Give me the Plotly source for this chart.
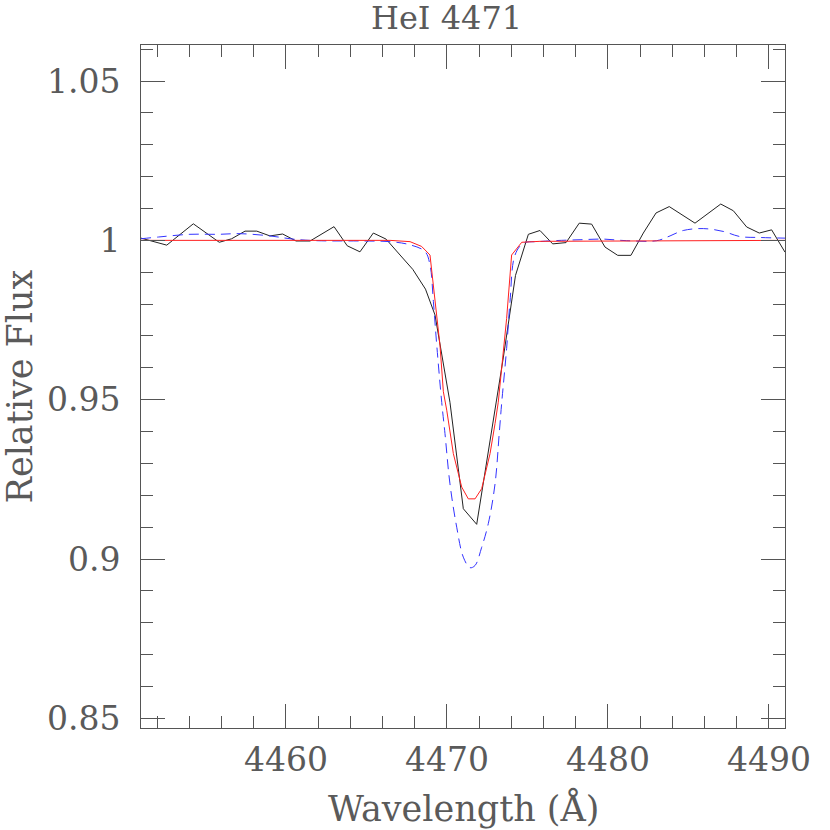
import plotly.graph_objects as go

# Observed spectrum (black)
obs_wave = [4451.00, 4452.60, 4454.25, 4455.86, 4456.63, 4457.46, 4458.19, 4459.01, 4459.80,
            4460.63, 4461.50, 4462.99, 4463.81, 4464.60, 4465.43, 4466.22, 4467.09, 4467.88,
            4468.67, 4469.26, 4470.19, 4471.02, 4471.85, 4472.68, 4473.50, 4474.26, 4475.06,
            4475.78, 4476.57, 4477.40, 4478.22, 4478.99, 4479.82, 4480.61, 4481.43, 4482.20,
            4482.99, 4483.81, 4485.41, 4487.01, 4487.79, 4488.62, 4489.40, 4490.17, 4491.00]
obs_flux = [1.0007, 0.9985, 1.0052, 0.9994, 1.0005, 1.0029, 1.0029, 1.0014, 1.0020,
            0.9998, 0.9998, 1.0043, 0.9983, 0.9964, 1.0023, 1.0004, 0.9954, 0.9909,
            0.9847, 0.9766, 0.9492, 0.9158, 0.9109, 0.9373, 0.9631, 0.9890, 1.0019,
            1.0031, 0.9989, 0.9993, 1.0054, 1.0051, 0.9979, 0.9953, 0.9953, 1.0023,
            1.0086, 1.0106, 1.0054, 1.0114, 1.0093, 1.0042, 1.0023, 1.0033, 0.9963]

# Model 1 (blue dashed)
mod1_wave = [4451.00, 4452.18, 4454.04, 4455.78, 4457.15, 4459.01, 4460.44, 4461.93, 4464.79,
             4466.47, 4467.71, 4468.64, 4468.95, 4469.16, 4469.37, 4469.68, 4469.88, 4470.19,
             4470.61, 4471.02, 4471.43, 4471.75, 4472.16, 4472.57, 4472.99, 4473.25, 4473.40,
             4473.71, 4473.92, 4474.23, 4474.75, 4475.68, 4476.61, 4478.27, 4479.71, 4481.17,
             4483.03, 4483.86, 4484.68, 4485.93, 4487.17, 4488.20, 4489.45, 4491.00]
mod1_flux = [1.0005, 1.0011, 1.0019, 1.0019, 1.0021, 1.0014, 1.0004, 0.9999, 0.9998,
             0.9996, 0.9986, 0.9965, 0.9923, 0.9808, 0.9671, 0.9491, 0.9394, 0.9236,
             0.9100, 0.9006, 0.8973, 0.8980, 0.9037, 0.9111, 0.9236, 0.9394, 0.9488,
             0.9661, 0.9808, 0.9954, 0.9991, 0.9996, 0.9999, 1.0002, 1.0004, 0.9999,
             0.9999, 1.0014, 1.0031, 1.0037, 1.0028, 1.0012, 1.0009, 1.0007]

# Model 2 (red solid)
mod2_wave = [4451.00, 4466.47, 4467.71, 4468.43, 4468.95, 4469.26, 4469.57, 4469.78, 4469.99,
             4470.40, 4470.92, 4471.33, 4471.75, 4472.16, 4472.68, 4472.99, 4473.19, 4473.71,
             4474.02, 4474.65, 4475.78, 4491.00]
mod2_flux = [1.0000, 1.0000, 0.9996, 0.9981, 0.9954, 0.9808, 0.9671, 0.9525, 0.9467,
             0.9331, 0.9226, 0.9189, 0.9189, 0.9221, 0.9331, 0.9425, 0.9492, 0.9755,
             0.9954, 0.9994, 0.9997, 1.0000]

x_tickvals = [4460, 4470, 4480, 4490]
x_ticktext = ["4460", "4470", "4480", "4490"]
y_tickvals = [0.85, 0.9, 0.95, 1.0, 1.05]
y_ticktext = ["0.85", "0.9", "0.95", "1", "1.05"]

FONT = "DejaVu Serif"
TXT = "#5a5a5a"
AX = "#555555"

fig = go.Figure()
fig.add_trace(go.Scatter(x=obs_wave, y=obs_flux, mode="lines",
                         line=dict(color="#222222", width=1), showlegend=False))
fig.add_trace(go.Scatter(x=mod1_wave, y=mod1_flux, mode="lines", line_shape="spline",
                         line=dict(color="#3333ff", width=1, dash="10px,6px"), showlegend=False))
fig.add_trace(go.Scatter(x=mod2_wave, y=mod2_flux, mode="lines",
                         line=dict(color="#ff2020", width=1), showlegend=False))

axis_common = dict(showgrid=False, zeroline=False, showline=True, linecolor=AX, linewidth=1,
                   mirror="ticks", ticks="inside", tickcolor=AX, ticklen=24, tickwidth=1,
                   tickfont=dict(family=FONT, size=33, color=TXT))

fig.update_xaxes(range=[4451, 4491], tickmode="array", tickvals=x_tickvals, ticktext=x_ticktext,
                 minor=dict(dtick=2, ticks="inside", ticklen=12, tickcolor=AX, tickwidth=1),
                 ticklabelstandoff=2, **axis_common)
fig.update_yaxes(range=[0.847, 1.0613], tickmode="array", tickvals=y_tickvals, ticktext=y_ticktext,
                 minor=dict(dtick=0.01, ticks="inside", ticklen=12, tickcolor=AX, tickwidth=1),
                 ticklabelstandoff=13, **axis_common)

fig.update_layout(
    width=830, height=830,
    margin=dict(l=141, r=45, t=45, b=102),
    paper_bgcolor="white", plot_bgcolor="white",
    annotations=[
        dict(text="HeI 4471", xref="paper", yref="paper", x=0.474, y=1.039,
             xanchor="center", yanchor="middle", showarrow=False,
             font=dict(family=FONT, size=32, color=TXT)),
        dict(text="Wavelength (Å)", xref="paper", yref="paper", x=0.5, y=-0.117,
             xanchor="center", yanchor="middle", showarrow=False,
             font=dict(family=FONT, size=35, color=TXT)),
        dict(text="Relative Flux", xref="paper", yref="paper", x=-0.188, y=0.5,
             xanchor="center", yanchor="middle", textangle=-90, showarrow=False,
             font=dict(family=FONT, size=35, color=TXT)),
    ],
)

fig.write_html("out.html", config={"displayModeBar": False},
               post_script="document.body.style.margin='0px';document.body.style.overflow='hidden';")
